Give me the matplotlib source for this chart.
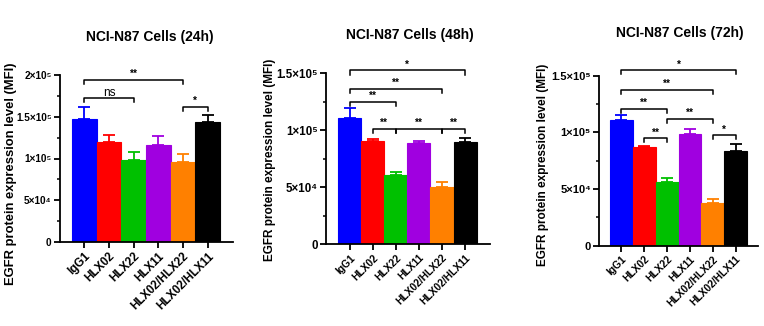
import matplotlib
matplotlib.use("Agg")
import matplotlib.pyplot as plt
from matplotlib.ticker import MultipleLocator

plt.rcParams['font.family'] = ['Liberation Sans', 'DejaVu Sans']
plt.rcParams['font.weight'] = 'bold'

categories = ['IgG1', 'HLX02', 'HLX22', 'HLX11', 'HLX02/HLX22', 'HLX02/HLX11']
colors = ['#0000FF', '#FF0000', '#00C000', '#A000E0', '#FF8000', '#000000']

titles = ['NCI-N87 Cells (24h)', 'NCI-N87 Cells (48h)', 'NCI-N87 Cells (72h)']

mean_24h = [1.47e5, 1.20e5, 0.98e5, 1.16e5, 0.96e5, 1.44e5]
err_24h = [0.15e5, 0.085e5, 0.10e5, 0.11e5, 0.09e5, 0.075e5]
mean_48h = [1.105e5, 0.903e5, 0.609e5, 0.888e5, 0.499e5, 0.90e5]
err_48h = [0.092e5, 0.02e5, 0.028e5, 0.021e5, 0.046e5, 0.029e5]
mean_72h = [1.113e5, 0.867e5, 0.565e5, 0.984e5, 0.381e5, 0.832e5]
err_72h = [0.044e5, 0.012e5, 0.035e5, 0.047e5, 0.029e5, 0.067e5]

# significance brackets: (from index, to index, height, label)
sig_24h = [(0, 4, 1.94e5, '**'), (0, 2, 1.725e5, 'ns'), (4, 5, 1.62e5, '*')]
sig_48h = [(0, 5, 1.526e5, '*'), (0, 4, 1.364e5, '**'), (0, 2, 1.249e5, '**'),
           (1, 2, 1.012e5, '**'), (2, 4, 1.012e5, '**'), (4, 5, 1.012e5, '**')]
sig_72h = [(0, 5, 1.55e5, '*'), (0, 4, 1.374e5, '**'), (0, 2, 1.207e5, '**'),
           (2, 4, 1.119e5, '**'), (1, 2, 0.949e5, '**'), (4, 5, 0.976e5, '*')]

ymax = [2e5, 1.5e5, 1.5e5]
ytick_labels = [['0', '5×10⁴', '1×10⁵', '1.5×10⁵', '2×10⁵'],
                ['0', '5×10⁴', '1×10⁵', '1.5×10⁵'],
                ['0', '5×10⁴', '1×10⁵', '1.5×10⁵']]

W, H = 764, 326
fig = plt.figure(figsize=(W / 100, H / 100), dpi=100)

# axes boxes in pixels: left, right, top, bottom
boxes = [(60, 233, 75, 242), (326, 490, 73.3, 244.3), (599.3, 758, 75.7, 245.7)]
xlims = [(-0.986, 6.03), (-1.03, 6.08), (-0.97, 5.98)]
title_pos = [(150, 37), (410, 35), (680, 33)]
ylabel_pos = [(11, 174), (270, 160), (543, 165)]
ylabel_size = [9.4, 8.5, 8.5]
xtick_size = [8.4, 7.4, 7.4]
ytick_size = [7.2, 8.3, 8.0]

means = [mean_24h, mean_48h, mean_72h]
errs = [err_24h, err_48h, err_72h]
sigs = [sig_24h, sig_48h, sig_72h]

for k in range(3):
    l, r, t, b = boxes[k]
    ax = fig.add_axes([l / W, 1 - b / H, (r - l) / W, (b - t) / H])
    x = list(range(len(categories)))
    for i in x:
        ax.bar(i, means[k][i], width=1.0, color=colors[i], edgecolor=colors[i],
               linewidth=0.8, zorder=2)
        ax.errorbar(i, means[k][i], yerr=[[0], [errs[k][i]]], color=colors[i],
                    capsize=4.5, elinewidth=1.3, capthick=1.3, zorder=3)
    ax.set_xlim(*xlims[k])
    ax.set_ylim(0, ymax[k])
    ax.yaxis.set_major_locator(MultipleLocator(5e4))
    ax.yaxis.set_minor_locator(MultipleLocator(2.5e4))
    ax.set_yticks([i * 5e4 for i in range(len(ytick_labels[k]))])
    ax.set_yticklabels(ytick_labels[k], fontsize=ytick_size[k], fontweight='bold')
    ax.set_xticks(x)
    ax.set_xticklabels(categories, rotation=45, ha='right', rotation_mode='anchor',
                       fontsize=xtick_size[k], fontweight='bold')
    ax.spines['top'].set_visible(False)
    ax.spines['right'].set_visible(False)
    for s in ['left', 'bottom']:
        ax.spines[s].set_linewidth(1.3)
    ax.tick_params(axis='both', which='major', direction='out', length=4, width=1.3, pad=2)
    ax.tick_params(axis='y', which='minor', direction='out', length=2.5, width=1.1)
    ax.tick_params(axis='x', which='minor', bottom=False)

    tick = 0.025 * ymax[k]
    for (i, j, y, lab) in sigs[k]:
        ax.plot([i, i, j, j], [y - tick, y, y, y - tick], color='black', lw=1.1,
                clip_on=False, zorder=4)
        if lab == 'ns':
            ax.text((i + j) / 2, y - 0.004 * ymax[k], lab, ha='center', va='bottom',
                    fontsize=8.5, fontweight='normal', clip_on=False)
        else:
            ax.text((i + j) / 2, y + 0.004 * ymax[k], lab, ha='center', va='bottom',
                    fontsize=7.2, fontweight='bold', clip_on=False)

    tx, ty = title_pos[k]
    fig.text(tx / W, 1 - ty / H, titles[k], ha='center', va='center',
             fontsize=10.0, fontweight='bold')
    lx, ly = ylabel_pos[k]
    fig.text(lx / W, 1 - ly / H, 'EGFR protein expression level (MFI)', rotation=90,
             ha='center', va='center', fontsize=ylabel_size[k], fontweight='bold')

fig.savefig('out.png', dpi=100, facecolor='white')
